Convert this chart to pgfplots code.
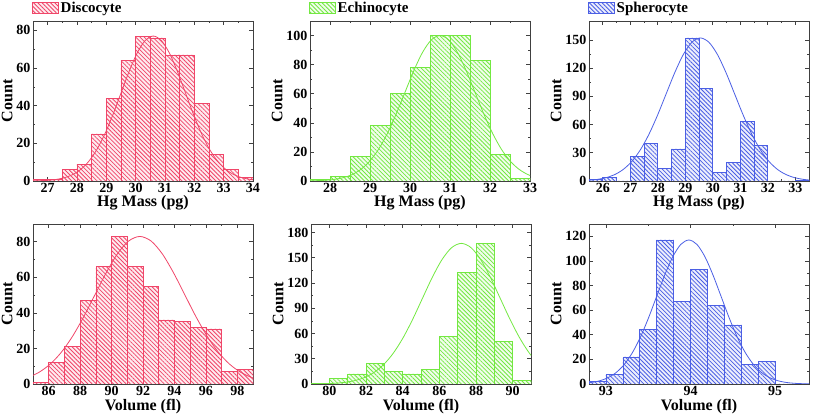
\documentclass[border=0pt]{standalone}
\usepackage{fontspec}
\setmainfont{Liberation Serif}
\usepackage{pgfplots}
\pgfplotsset{compat=1.18}
\usetikzlibrary{patterns.meta}
\definecolor{cr}{RGB}{240,70,105}
\definecolor{cg}{RGB}{115,232,65}
\definecolor{cb}{RGB}{75,95,228}
\pgfplotsset{
  hist/.style={
    scale only axis, width=220pt, height=160pt,
    anchor=south west, ymin=0,
    tick align=inside, tick pos=both,
    minor tick num=1,
    major tick length=4pt, minor tick length=2.2pt,
    axis line style={line width=0.8pt, black!75},
    every tick/.style={black!75, line width=0.6pt},
    tick label style={font=\bfseries\fontsize{14}{14}\selectfont},
    xticklabel style={yshift=1pt},
    yticklabel style={xshift=1pt},
    label style={font=\bfseries\fontsize{16}{16}\selectfont},
    ylabel={Count},
    ylabel style={yshift=-3pt},
    xlabel style={yshift=4pt},
    legend style={at={(0,1)}, anchor=south west, draw=none, fill=none,
      inner sep=0pt, outer sep=0pt, yshift=5pt, xshift=-1pt,
      font=\bfseries\fontsize{15}{15}\selectfont},
    legend image code/.code={\draw[##1] (0pt,-5.5pt) rectangle (26pt,5.5pt);},
  },
  bars/.style={ybar interval, draw=#1, line width=0.7pt, fill=#1!10,
    postaction={pattern={Lines[angle=-45,distance=3pt,line width=0.8pt]}, pattern color=#1}},
  fit/.style={#1, line width=0.8pt, smooth, no marks, forget plot},
}
\begin{document}
\begin{tikzpicture}
\path[use as bounding box] (0,0) rectangle (813pt,419pt);
% ---------- Discocyte Hg mass
\begin{axis}[hist, at={(33pt,238pt)}, xmin=26.5, xmax=34, ymax=85,
  xtick={27,28,29,30,31,32,33,34}, xticklabels={27,28,29,30,31,32,33,34},
  ytick={0,20,40,60,80}, yticklabels={0,20,40,60,80}, xlabel={Hg Mass (pg)}]
\addplot[bars=cr] coordinates {(26.5,1)(27,1)(27.5,6)(28,9)(28.5,25)(29,44)(29.5,64)(30,77)(30.5,76)(31,67)(31.5,67)(32,41)(32.5,14)(33,6)(33.5,2)(34,2)};
\addlegendentry{Discocyte}
\addplot[fit=cr] coordinates {(26.2,0.026)(26.475,0.068)(26.75,0.169)(27.025,0.393)(27.3,0.855)(27.575,1.756)(27.85,3.38)(28.125,6.13)(28.4,10.42)(28.675,16.66)(28.95,25.0)(29.225,35.25)(29.5,46.70)(29.775,58.12)(30.05,67.95)(30.325,74.63)(30.6,77)(30.875,74.63)(31.15,67.95)(31.425,58.12)(31.7,46.70)(31.975,35.25)(32.25,25.0)(32.525,16.66)(32.8,10.42)(33.075,6.13)(33.35,3.38)(33.625,1.756)(33.9,0.855)(34.175,0.393)};
\end{axis}
% ---------- Echinocyte Hg mass
\begin{axis}[hist, at={(310pt,238pt)}, xmin=27.5, xmax=33, ymax=110,
  xtick={28,29,30,31,32,33}, xticklabels={28,29,30,31,32,33},
  ytick={0,20,40,60,80,100}, yticklabels={0,20,40,60,80,100}, xlabel={Hg Mass (pg)}]
\addplot[bars=cg] coordinates {(27.5,1)(28,3)(28.5,17)(29,38)(29.5,60)(30,78)(30.5,100)(31,100)(31.5,83)(32,18)(32.5,2)(33,2)};
\addlegendentry{Echinocyte}
\addplot[fit=cg] coordinates {(27.23,0.034)(27.45,0.088)(27.67,0.22)(27.89,0.51)(28.11,1.11)(28.33,2.28)(28.55,4.39)(28.77,7.96)(28.99,13.53)(29.21,21.63)(29.43,32.47)(29.65,45.78)(29.87,60.65)(30.09,75.48)(30.31,88.25)(30.53,96.92)(30.75,100)(30.97,96.92)(31.19,88.25)(31.41,75.48)(31.63,60.65)(31.85,45.78)(32.07,32.47)(32.29,21.63)(32.51,13.53)(32.73,7.96)(32.95,4.39)(33.17,2.28)(33.39,1.11)};
\end{axis}
% ---------- Spherocyte Hg mass
\begin{axis}[hist, at={(589pt,238pt)}, xmin=25.5, xmax=33.5, ymax=170,
  xtick={26,27,28,29,30,31,32,33}, xticklabels={26,27,28,29,30,31,32,33},
  ytick={0,30,60,90,120,150}, yticklabels={0,30,60,90,120,150}, xlabel={Hg Mass (pg)}]
\addplot[bars=cb] coordinates {(25.5,2)(26,4)(26.5,0)(27,26)(27.5,40)(28,13)(28.5,34)(29,152)(29.5,98)(30,9)(30.5,20)(31,63)(31.5,38)(32,0)(32.5,0)(33,1)(33.5,1)};
\addlegendentry{Spherocyte}
\addplot[fit=cb] coordinates {(25.175,0.334)(25.4875,0.775)(25.8,1.687)(26.1125,3.466)(26.425,6.67)(26.7375,12.10)(27.05,20.57)(27.3625,32.88)(27.675,49.35)(27.9875,69.59)(28.3,92.19)(28.6125,114.73)(28.925,134.14)(29.2375,147.32)(29.55,152)(29.8625,147.32)(30.175,134.14)(30.4875,114.73)(30.8,92.19)(31.1125,69.59)(31.425,49.35)(31.7375,32.88)(32.05,20.57)(32.3625,12.10)(32.675,6.67)(32.9875,3.466)(33.3,1.687)(33.6125,0.775)};
\end{axis}
% ---------- Discocyte volume
\begin{axis}[hist, at={(33pt,35pt)}, xmin=85, xmax=99, ymax=90,
  xtick={86,88,90,92,94,96,98}, xticklabels={86,88,90,92,94,96,98},
  ytick={0,20,40,60,80}, yticklabels={0,20,40,60,80}, xlabel={Volume (fl)}]
\addplot[bars=cr] coordinates {(85,1)(86,12)(87,21)(88,47)(89,66)(90,83)(91,66)(92,55)(93,36)(94,35)(95,32)(96,31)(97,7)(98,8)(99,8)};
\addplot[fit=cr] coordinates {(83.9625,1.89)(84.675,3.64)(85.3875,6.61)(86.1,11.23)(86.8125,17.95)(87.525,26.95)(88.2375,38.00)(88.95,50.34)(89.6625,62.65)(90.375,73.25)(91.0875,80.44)(91.8,83)(92.5125,80.44)(93.225,73.25)(93.9375,62.65)(94.65,50.34)(95.3625,38.00)(96.075,26.95)(96.7875,17.95)(97.5,11.23)(98.2125,6.61)(98.925,3.64)(99.6375,1.89)};
\end{axis}
% ---------- Echinocyte volume
\begin{axis}[hist, at={(311pt,35pt)}, xmin=79, xmax=91, ymax=190,
  xtick={80,82,84,86,88,90}, xticklabels={80,82,84,86,88,90},
  ytick={0,30,60,90,120,150,180}, yticklabels={0,30,60,90,120,150,180}, xlabel={Volume (fl)}]
\addplot[bars=cg] coordinates {(79,1)(80,7)(81,12)(82,24)(83,15)(84,12)(85,17)(86,56)(87,132)(88,167)(89,51)(90,4)(91,4)};
\addplot[fit=cg] coordinates {(78.68,0.057)(79.2125,0.147)(79.745,0.367)(80.2775,0.852)(80.81,1.854)(81.3425,3.81)(81.875,7.33)(82.4075,13.29)(82.94,22.60)(83.4725,36.12)(84.005,54.22)(84.5375,76.45)(85.07,101.29)(85.6025,126.05)(86.135,147.38)(86.6675,161.86)(87.2,167)(87.7325,161.86)(88.265,147.38)(88.7975,126.05)(89.33,101.29)(89.8625,76.45)(90.395,54.22)(90.9275,36.12)(91.46,22.60)};
\end{axis}
% ---------- Spherocyte volume
\begin{axis}[hist, at={(589pt,35pt)}, xmin=92.8, xmax=95.4, ymax=130,
  xtick={93,94,95}, xticklabels={93,94,95},
  ytick={0,20,40,60,80,100,120}, yticklabels={0,20,40,60,80,100,120}, xlabel={Volume (fl)}]
\addplot[bars=cb] coordinates {(92.8,2)(93,8)(93.2,22)(93.4,44)(93.6,117)(93.8,67)(94,93)(94.2,64)(94.4,48)(94.6,16)(94.8,18)(95,0)(95.2,0)(95.4,0)};
\addplot[fit=cb] coordinates {(92.643,0.257)(92.7385,0.597)(92.834,1.299)(92.9295,2.67)(93.025,5.14)(93.1205,9.31)(93.216,15.83)(93.3115,25.31)(93.407,37.99)(93.5025,53.56)(93.598,70.96)(93.6935,88.31)(93.789,103.25)(93.8845,113.40)(93.98,117)(94.0755,113.40)(94.171,103.25)(94.2665,88.31)(94.362,70.96)(94.4575,53.56)(94.553,37.99)(94.6485,25.31)(94.744,15.83)(94.8395,9.31)(94.935,5.14)(95.0305,2.67)(95.126,1.299)(95.2215,0.597)(95.317,0.257)(95.4125,0.103)};
\end{axis}
\end{tikzpicture}
\end{document}
